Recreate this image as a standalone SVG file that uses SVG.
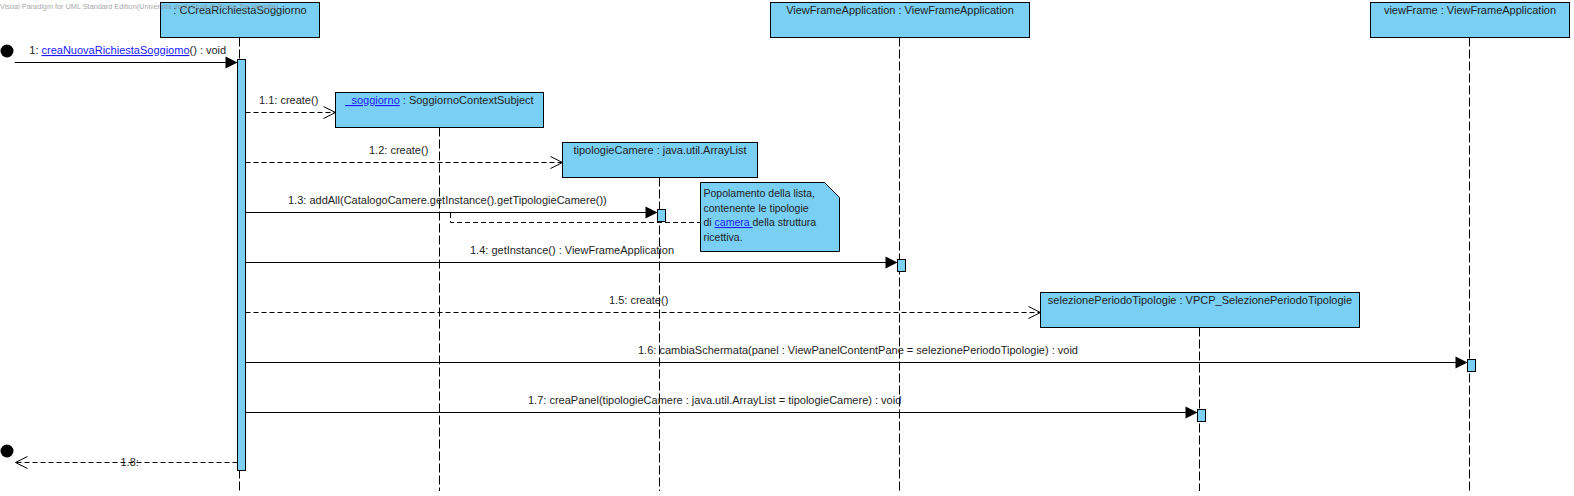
<svg xmlns="http://www.w3.org/2000/svg" width="1574" height="496" viewBox="0 0 1574 496">
<style>
text{font-family:"Liberation Sans",Arial,sans-serif;font-size:11px;fill:#1e1e1e}
.box{fill:#7acff5;stroke:#000;stroke-width:1}
.act{fill:#7acff5;stroke:#000;stroke-width:1}
.life{stroke:#000;stroke-width:1;stroke-dasharray:9,3;fill:none}
.msg{stroke:#000;stroke-width:1;fill:none}
.dash{stroke:#000;stroke-width:1;fill:none;stroke-dasharray:5,3}
.link{fill:#1a1aff;text-decoration:underline}
.ctr{text-anchor:middle}
.note text{font-size:10.5px}
.wm{font-size:7.3px;fill:#8c8c8c;opacity:0.75}
</style>
<defs>
<marker id="fill" markerUnits="userSpaceOnUse" markerWidth="13" markerHeight="13" refX="12" refY="6" orient="auto" overflow="visible">
<path d="M0,0 L12,6 L0,12 z" fill="#000"/>
</marker>
<marker id="open" markerUnits="userSpaceOnUse" markerWidth="13" markerHeight="13" refX="12" refY="6" orient="auto" overflow="visible">
<path d="M0,0 L12,6 L0,12" fill="none" stroke="#000" stroke-width="1"/>
</marker>
</defs>
<rect width="1574" height="496" fill="#fff"/>

<g id="lifelines">
<line class="life" x1="239.5" y1="37.5" x2="239.5" y2="491"/>
<line class="life" x1="439.5" y1="127.5" x2="439.5" y2="491"/>
<line class="life" x1="659.5" y1="177.5" x2="659.5" y2="491"/>
<line class="life" x1="899.5" y1="37.5" x2="899.5" y2="491"/>
<line class="life" x1="1199.5" y1="327.5" x2="1199.5" y2="491"/>
<line class="life" x1="1469.5" y1="37.5" x2="1469.5" y2="491"/>
</g>

<g id="node-ccrea">
<rect class="box" x="160.5" y="2.5" width="159" height="35"/>
<text class="ctr" x="240" y="14">: CCreaRichiestaSoggiorno</text>
<rect class="act" x="237.5" y="59.5" width="8" height="411"/>
</g>

<g id="node-soggiorno">
<rect class="box" x="335.5" y="92.5" width="208" height="35"/>
<text class="ctr" x="439.5" y="104"><tspan class="link">_soggiorno</tspan> : SoggiornoContextSubject</text>
</g>

<g id="node-tipologie">
<rect class="box" x="562.5" y="142.5" width="195" height="35"/>
<text class="ctr" x="660" y="154">tipologieCamere : java.util.ArrayList</text>
<rect class="act" x="657.5" y="209.5" width="8" height="12"/>
</g>

<g id="node-viewframeapp">
<rect class="box" x="770.5" y="2.5" width="259" height="35"/>
<text class="ctr" x="900" y="14">ViewFrameApplication : ViewFrameApplication</text>
<rect class="act" x="897.5" y="259.5" width="8" height="12"/>
</g>

<g id="node-selezione">
<rect class="box" x="1040.5" y="292.5" width="319" height="35"/>
<text class="ctr" x="1200" y="304">selezionePeriodoTipologie : VPCP_SelezionePeriodoTipologie</text>
<rect class="act" x="1197.5" y="409.5" width="8" height="12"/>
</g>

<g id="node-viewframe">
<rect class="box" x="1370.5" y="2.5" width="199" height="35"/>
<text class="ctr" x="1470" y="14">viewFrame : ViewFrameApplication</text>
<rect class="act" x="1467.5" y="359.5" width="8" height="12"/>
</g>

<g id="node-start">
<circle cx="7" cy="51" r="6.5" fill="#000"/>
</g>
<g id="node-end">
<circle cx="7" cy="451" r="6.5" fill="#000"/>
</g>

<g id="node-note" class="note">
<polygon class="box" points="700.5,182.5 824.5,182.5 839.5,197.5 839.5,251.5 700.5,251.5"/>
<text x="703.5" y="197">Popolamento della lista,</text>
<text x="703.5" y="211.5">contenente le tipologie</text>
<text x="703.5" y="226">di <tspan class="link">camera </tspan>della struttura</text>
<text x="703.5" y="240.5">ricettiva.</text>
</g>

<g id="connectors">
<path class="msg" d="M14.7,62.5 H237.5" marker-end="url(#fill)"/>
<text x="29.3" y="54">1: <tspan class="link">creaNuovaRichiestaSoggiomo</tspan>() : void</text>

<path class="dash" d="M245.5,112.5 H335.5" marker-end="url(#open)"/>
<text x="259" y="104">1.1: create()</text>

<path class="dash" d="M245.5,162.5 H562.5" marker-end="url(#open)"/>
<text x="369" y="154">1.2: create()</text>

<path class="msg" d="M245.5,212.5 H657.5" marker-end="url(#fill)"/>
<text x="288" y="204">1.3: addAll(CatalogoCamere.getInstance().getTipologieCamere())</text>

<path class="dash" d="M450.5,213 V222.5 H700.5"/>

<path class="msg" d="M245.5,262.5 H897.5" marker-end="url(#fill)"/>
<text x="470" y="254">1.4: getInstance() : ViewFrameApplication</text>

<path class="dash" d="M245.5,312.5 H1040.5" marker-end="url(#open)"/>
<text x="609" y="304">1.5: create()</text>

<path class="msg" d="M245.5,362.5 H1467.5" marker-end="url(#fill)"/>
<text x="638" y="354">1.6: cambiaSchermata(panel : ViewPanelContentPane = selezionePeriodoTipologie) : void</text>

<path class="msg" d="M245.5,412.5 H1197.5" marker-end="url(#fill)"/>
<text x="528" y="404">1.7: creaPanel(tipologieCamere : java.util.ArrayList = tipologieCamere) : void</text>

<path class="dash" d="M237.5,462.5 H15.5" marker-end="url(#open)"/>
<text x="120.5" y="466">1.8:</text>
</g>

<text class="wm" x="0" y="9">Visual Paradigm for UML Standard Edition(Universita degli Studi di Roma Tor Vergata)</text>
</svg>
